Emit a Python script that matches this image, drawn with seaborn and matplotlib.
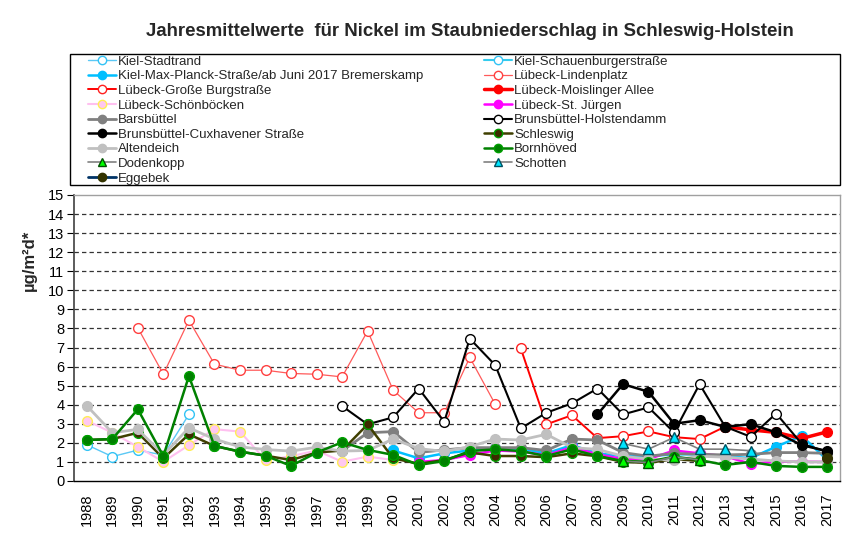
import numpy as np
import pandas as pd
import matplotlib
matplotlib.use("Agg")
import matplotlib.pyplot as plt
import seaborn as sns
from matplotlib.lines import Line2D
from matplotlib.patches import Rectangle

sns.set_theme(style="white")
plt.rcParams['font.family'] = ['Liberation Sans', 'DejaVu Sans']

NA = np.nan
years = list(range(1988, 2018))

# Jahresmittelwerte je Messstelle (1988 ... 2017), NA = keine Messung
kiel_stadtrand = [1.9, 1.28, 1.62, 1.36, 3.49] + [NA] * 25
kiel_schauenburger = [NA] * 12 + [1.63] + [NA] * 17
kiel_max_planck = [NA] * 12 + [1.6, 1.19, 1.45, 1.6, 1.71, 1.7, 1.45, 1.88, 1.45, 1.3,
                               1.3, 1.4, 1.4, 1.3, 1.2, 1.8, 2.37, 1.1]
luebeck_lindenplatz = [NA, NA, 8.03, 5.6, 8.43, 6.13, 5.81, 5.81, 5.64, 5.6, 5.46, 7.87,
                       4.76, 3.58, 3.58, 6.48, 4.02] + [NA] * 13
luebeck_grosse_burgstr = [NA] * 17 + [6.95, 2.97, 3.45, 2.25, 2.35, 2.6, 2.3, 2.2, 2.85,
                                      NA, NA, NA, NA]
luebeck_moislinger = [NA] * 25 + [2.85, 2.68, 2.55, 2.23, 2.58]
luebeck_schoenboecken = [3.17, 2.53, 1.79, 1.01, 1.88, 2.72, 2.59, 1.1, 1.3, 1.6, 1.01,
                         1.28, 1.1] + [NA] * 17
luebeck_st_juergen = [NA] * 13 + [1.0, 1.1, 1.37, 1.6, 1.55, 1.35, 1.77, 1.4, 1.15, 1.15,
                                  1.6, 1.45, 1.3, 0.9, 1.01, 1.01, 1.0]
barsbuettel = [NA] * 10 + [1.57, 2.53, 2.59, 1.5, 1.63, 1.75, 1.75, 1.75, 1.6, 2.2, 2.15,
                           1.49, 1.3, 1.45, 1.4, 1.37, 1.4, 1.49, 1.49, 1.45]
brunsb_holstendamm = [NA] * 10 + [3.93, 2.97, 3.34, 4.85, 3.1, 7.47, 6.07, 2.76, 3.58,
                                  4.07, 4.85, 3.49, 3.86, 2.55, 5.08, 2.85, 2.32, 3.54,
                                  1.95, 1.53]
brunsb_cuxhavener = [NA] * 20 + [3.49, 5.08, 4.68, 3.0, 3.19, 2.84, 2.98, 2.55, 1.88, 1.57]
schleswig = [2.15, 2.2, 2.53, 1.19, 2.45, 1.84, 1.54, 1.33, 1.1, 1.49, 1.6, 2.97, 1.19,
             0.9, 1.1, 1.5, 1.31, 1.31, 1.25, 1.45, 1.3, 1.0, 0.95, 1.15, 1.05] + [NA] * 5
altendeich = [3.95, 2.53, 2.71, 1.37, 2.79, 2.2, 1.79, 1.65, 1.57, 1.77, 1.57, 1.6, 2.2,
              1.7, 1.55, 1.8, 2.2, 2.15, 2.45, 1.75, 1.66, 1.3, 1.15, 1.1, 1.3, 1.25,
              1.15, 1.05, 1.0, 1.0]
bornhoeved = [2.15, 2.2, 3.76, 1.31, 5.5, 1.84, 1.54, 1.33, 0.79, 1.49, 2.03, 1.63, 1.37,
              0.84, 1.05, 1.57, 1.66, 1.57, 1.31, 1.66, 1.31, 1.05, 1.01, 1.28, 1.1, 0.84,
              1.0, 0.79, 0.74, 0.74]
dodenkopp = [NA] * 21 + [1.05, 0.96, 1.27, 1.1] + [NA] * 5
schotten = [NA] * 21 + [1.97, 1.67, 2.29, 1.67, 1.67, 1.59] + [NA] * 3
eggebek = [NA] * 29 + [1.22]

# label, values, line colour, line width, marker, face, edge
series = [
    ("Kiel-Stadtrand", kiel_stadtrand, "#5BC8F5", 1.0, "o", "white", "#33C3F5"),
    ("Kiel-Schauenburgerstraße", kiel_schauenburger, "#33CCEE", 1.5, "o", "white", "#33C3F5"),
    ("Kiel-Max-Planck-Straße/ab Juni 2017 Bremerskamp", kiel_max_planck, "#00BFFF", 1.8, "o", "#00BFFF", "#00BFFF"),
    ("Lübeck-Lindenplatz", luebeck_lindenplatz, "#FF5A5A", 0.9, "o", "white", "#FF4040"),
    ("Lübeck-Große Burgstraße", luebeck_grosse_burgstr, "#FF0000", 1.4, "o", "white", "#FF2020"),
    ("Lübeck-Moislinger Allee", luebeck_moislinger, "#FF0000", 2.5, "o", "#FF0000", "#FF0000"),
    ("Lübeck-Schönböcken", luebeck_schoenboecken, "#FFC0F0", 1.5, "o", "#FFC8F0", "#FFEE55"),
    ("Lübeck-St. Jürgen", luebeck_st_juergen, "#FF00FF", 1.8, "o", "#FF00FF", "#FF00FF"),
    ("Barsbüttel", barsbuettel, "#808080", 2.0, "o", "#808080", "#808080"),
    ("Brunsbüttel-Holstendamm", brunsb_holstendamm, "#000000", 1.5, "o", "white", "#000000"),
    ("Brunsbüttel-Cuxhavener Straße", brunsb_cuxhavener, "#000000", 1.8, "o", "#000000", "#000000"),
    ("Schleswig", schleswig, "#3F3F00", 1.8, "o", "#3D2B00", "#00A000"),
    ("Altendeich", altendeich, "#C0C0C0", 2.0, "o", "#C0C0C0", "#C0C0C0"),
    ("Bornhöved", bornhoeved, "#008000", 1.8, "o", "#008000", "#00A000"),
    ("Dodenkopp", dodenkopp, "#808080", 1.2, "^", "#00FF00", "#005000"),
    ("Schotten", schotten, "#808080", 1.2, "^", "#00E5FF", "#005060"),
    ("Eggebek", eggebek, "#003366", 2.0, "o", "#333300", "#333300"),
]

fig = plt.figure(figsize=(8.53, 5.34), dpi=100)
ax = fig.add_axes([74 / 853, 1 - 481 / 534, 766 / 853, 286 / 534])

for v in range(1, 15):
    ax.axhline(v, color="#333333", lw=0.9, ls=(0, (3.5, 2.5)), zorder=1)

handles = []
for label, vals, lc, lw, mk, fc, ec in series:
    df = pd.DataFrame({"Jahr": years, "Wert": vals}).dropna()
    ms = 7.5 if mk == "^" else 7
    sns.lineplot(data=df, x="Jahr", y="Wert", ax=ax, color=lc, lw=lw, marker=mk,
                 markersize=ms, markerfacecolor=fc, markeredgecolor=ec,
                 markeredgewidth=1.0, estimator=None, sort=False, legend=False, zorder=3)
    handles.append(Line2D([0], [0], color=lc, lw=lw, marker=mk, markersize=6,
                          markerfacecolor=fc, markeredgecolor=ec, markeredgewidth=1.0))

ax.set_xlim(1987.5, 2017.5)
ax.set_ylim(0, 15)
ax.set_yticks(range(0, 16))
ax.set_yticklabels([str(v) for v in range(0, 16)], fontsize=10.5)
ax.set_xticks(years)
ax.set_xticklabels([str(y) for y in years], rotation=90, fontsize=10.5)
ax.set_xticks(np.arange(1987.5, 2018, 1), minor=True)
ax.tick_params(axis="x", which="major", length=0, pad=9, colors="black")
ax.tick_params(axis="x", which="minor", length=5, width=0.8, direction="out", color="black")
ax.tick_params(axis="y", length=5, width=0.8, direction="out", pad=2, left=True, colors="black")
ax.set_xlabel("")
ax.set_ylabel("µg/m²d*", fontsize=12, fontweight="bold")
ax.yaxis.set_label_coords(-0.049, 0.77)

for side in ["top", "right"]:
    ax.spines[side].set_color("#A0A0A0")
    ax.spines[side].set_linewidth(1.0)
ax.spines["left"].set_color("#404040")
ax.spines["left"].set_linewidth(1.2)
ax.spines["bottom"].set_color("black")
ax.spines["bottom"].set_linewidth(1.0)

fig.text(470 / 853, 1 - 32 / 534,
         "Jahresmittelwerte  für Nickel im Staubniederschlag in Schleswig-Holstein",
         ha="center", va="center", fontsize=13.4, fontweight="bold")

labels = [s[0] for s in series]
leg_kw = dict(loc="upper left", frameon=False, fontsize=9.5, handlelength=2.1,
              handletextpad=0.2, labelspacing=0.18, borderpad=0, borderaxespad=0)
leg1 = fig.legend(handles[0::2], labels[0::2], bbox_to_anchor=(88 / 853, 1 - 55.5 / 534), **leg_kw)
leg2 = fig.legend(handles[1::2], labels[1::2], bbox_to_anchor=(484 / 853, 1 - 55.5 / 534), **leg_kw)

fig.patches.append(Rectangle((70 / 853, 1 - 185 / 534), 770 / 853, 131 / 534,
                             transform=fig.transFigure, fill=False, edgecolor="black", lw=1.0))

fig.savefig("out.png", dpi=100)
